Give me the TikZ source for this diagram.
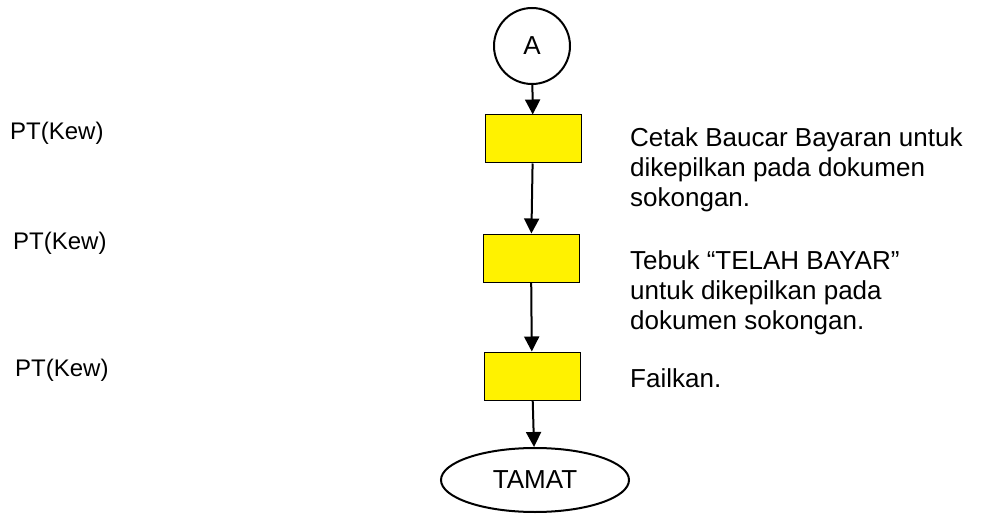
\documentclass[tikz,border=0pt]{standalone}
\usepackage{fontspec}
\setmainfont{Liberation Sans}
\usetikzlibrary{shapes.geometric,arrows.meta}

\begin{document}
\begin{tikzpicture}[x=1pt,y=-1pt]
  \useasboundingbox (0,0) rectangle (986,516);

  \begin{scope}[every node/.style={draw,line width=1pt,fill=yellow,minimum width=96pt,minimum height=48pt,inner sep=0pt}]
    \node (1) at (533,139) {};
    \node (2) at (531,258) {};
    \node (3) at (532,376) {};
  \end{scope}

  \begin{scope}[every node/.style={draw,line width=2pt,inner sep=0pt,font=\fontsize{26}{30}\selectfont}]
    \node[circle,minimum size=76pt] (A) at (532,46) {A};
    \node[ellipse,minimum width=188pt,minimum height=64pt] (T) at (535,480) {TAMAT};
  \end{scope}

  \begin{scope}[every node/.style={anchor=base west,inner sep=0pt,font=\fontsize{24}{28}\selectfont}]
    \node (pt1) at (10,140) {PT(Kew)};
    \node (pt2) at (13,249) {PT(Kew)};
    \node (pt3) at (15,376) {PT(Kew)};
  \end{scope}

  \begin{scope}[every node/.style={anchor=north west,align=left,inner sep=0pt,font=\fontsize{26}{30}\selectfont}]
    \node (d1) at (630,127) {Cetak Baucar Bayaran untuk\\dikepilkan pada dokumen\\sokongan.};
    \node (d2) at (630,250) {Tebuk “TELAH BAYAR”\\untuk dikepilkan pada\\dokumen sokongan.};
    \node (d3) at (630,368) {Failkan.};
  \end{scope}

  \begin{scope}[every edge/.style={draw,line width=2pt,-{Triangle[length=15pt,width=15pt]}}]
    \path (A) edge (1);
    \path (1) edge (2);
    \path (2) edge (3);
    \path (3) edge (T);
  \end{scope}

\end{tikzpicture}
\end{document}
